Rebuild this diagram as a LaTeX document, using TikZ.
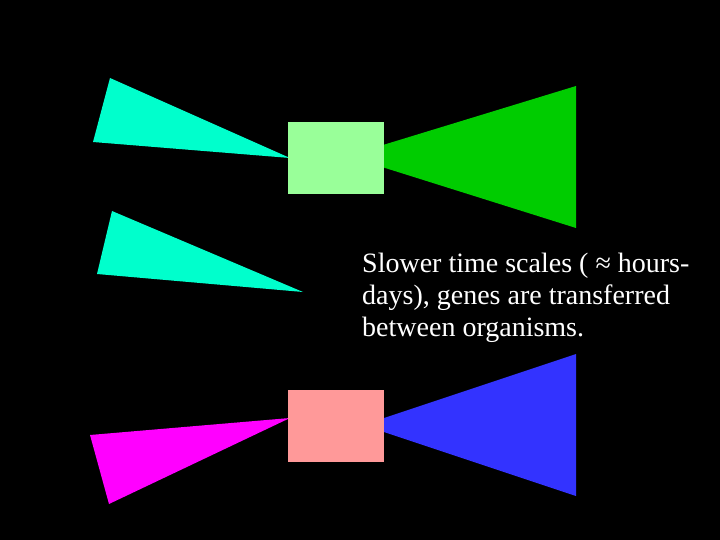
\documentclass[tikz,border=0pt]{standalone}
\usepackage{fontspec}
\setmainfont{Liberation Serif}
\definecolor{cyanT}{HTML}{00FFCC}
\definecolor{lgreen}{HTML}{99FF99}
\definecolor{dgreen}{HTML}{00CC00}
\definecolor{pinkR}{HTML}{FF9999}
\definecolor{magT}{HTML}{FF00FF}
\definecolor{blueT}{HTML}{3333FF}
\begin{document}
\begin{tikzpicture}[x=1pt,y=-1pt,
  caption/.style={anchor=base west, align=left, inner sep=0pt, text=white,
    font=\fontsize{28}{32}\selectfont}]
\fill[black] (0,0) rectangle (720,540);
\useasboundingbox (0,0) rectangle (720,540);
% top group
\fill[cyanT] (110,78) -- (93,142) -- (290,158) -- cycle;
\fill[dgreen] (576,86) -- (576,228) -- (347,156) -- cycle;
\fill[lgreen] (288,122) rectangle (384,194);
% middle triangle
\fill[cyanT] (112,211) -- (97,274) -- (303,292) -- cycle;
% bottom group
\fill[magT] (90,435) -- (109,504) -- (290,418) -- cycle;
\fill[blueT] (576,354) -- (576,496) -- (363,425) -- cycle;
\fill[pinkR] (288,390) rectangle (384,462);
\node[caption] (txt) at (362,336) {Slower time scales ( ≈ hours-\\days), genes are transferred\\between organisms.};
\end{tikzpicture}
\end{document}
